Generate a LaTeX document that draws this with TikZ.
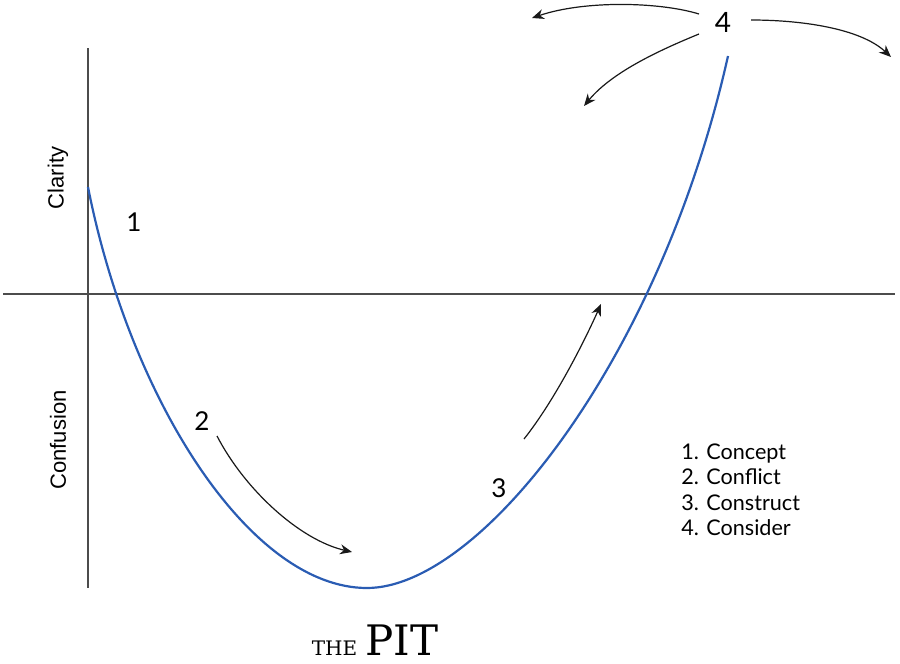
\documentclass[tikz,border=0pt]{standalone}
\usepackage{fontspec}
\setmainfont{Lato}
\newfontfamily\axisfont{Liberation Sans}
\newfontfamily\titlefont{DejaVu Serif}
\usetikzlibrary{arrows.meta, positioning}
\definecolor{pitblue}{HTML}{2A5CB3}

\begin{document}
\begin{tikzpicture}[
            x=0.5pt, y=-0.5pt,
            >={Stealth[length=6pt, width=5pt]},
            % axes of the chart
            axis/.style={
                draw=black!70,
                line width=0.6pt
            },
            % the pit curve
            pit/.style={
                draw=pitblue,
                line width=1.1pt
            },
            % thin curved arrows
            move/.style={
                draw=black!90,
                ->,
                line width=0.6pt
            },
            stage/.style={
                font=\fontsize{13}{15}\selectfont,
                inner sep=1pt
            },
            axislabel/.style={
                font=\axisfont\fontsize{11}{13}\selectfont,
                rotate=90
            }
        ]

            \useasboundingbox (0,0) rectangle (900,664);

            % Axes
            \coordinate (yTop) at (88,48);
            \coordinate (yBot) at (88,588);
            \coordinate (xLeft) at (3,294);
            \coordinate (xRight) at (895,294);
            \draw [axis] (yTop) -- (yBot);
            \draw [axis] (xLeft) -- (xRight);

            \node [axislabel] (clarity) at (58,178) {Clarity};
            \node [axislabel] (confusion) at (58,440) {Confusion};

            % The pit
            \coordinate (start) at (88,187);
            \coordinate (bottom) at (367,588);
            \coordinate (finish) at (728,56);
            \draw [pit] (start) .. controls (130,400) and (250,588) .. (bottom)
                .. controls (480,588) and (660,360) .. (finish);

            % Stage numbers
            \node [stage] (s1) at (134,222) {1};
            \node [stage] (s2) at (202,421) {2};
            \node [stage] (s3) at (499,488) {3};
            \node [stage, font=\fontsize{14}{16}\selectfont] (s4) at (723,22) {4};

            % Arrows
            \coordinate (a2s) at (217,436);
            \coordinate (a2e) at (352,552);
            \draw [move] (a2s) .. controls (245,490) and (300,540) .. (a2e);

            \coordinate (a3s) at (524,439);
            \coordinate (a3e) at (601,304);
            \draw [move] (a3s) .. controls (555,400) and (585,340) .. (a3e);

            \coordinate (a4s1) at (699,14);
            \coordinate (a4e1) at (532,18);
            \draw [move] (a4s1) .. controls (660,2) and (585,0) .. (a4e1);

            \coordinate (a4s2) at (699,34);
            \coordinate (a4e2) at (584,106);
            \draw [move] (a4s2) .. controls (660,50) and (612,72) .. (a4e2);

            \coordinate (a4s3) at (751,20);
            \coordinate (a4e3) at (891,57);
            \draw [move] (a4s3) .. controls (800,20) and (860,28) .. (a4e3);

            % Legend
            \node [anchor=north west, inner sep=0pt, align=left,
                   font=\fontsize{10.8}{12.75}\selectfont] (legend) at (681,443)
                {1. Concept\\2. Conflict\\3. Construct\\4. Consider};

            % Title
            \node [anchor=base, inner sep=0pt, font=\titlefont] (title) at (375,655)
                {\fontsize{10}{12}\selectfont THE\hspace{4pt}\fontsize{21}{24}\selectfont PIT};

        \end{tikzpicture}
\end{document}
